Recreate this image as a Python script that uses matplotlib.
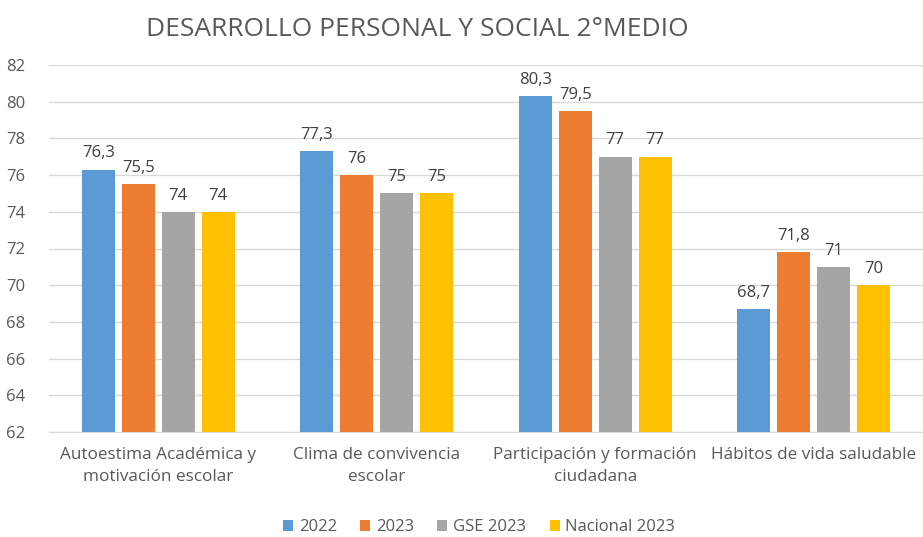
import matplotlib
matplotlib.use("Agg")
import matplotlib.pyplot as plt
import numpy as np

categories = ["Autoestima Académica y\nmotivación escolar", "Clima de convivencia\nescolar",
              "Participación y formación\nciudadana", "Hábitos de vida saludable"]
series_names = ["2022", "2023", "GSE 2023", "Nacional 2023"]
v2022 = [76.3, 77.3, 80.3, 68.7]
v2023 = [75.5, 76, 79.5, 71.8]
vgse = [74, 75, 77, 71]
vnac = [74, 75, 77, 70]
colors = ["#5B9BD5", "#ED7D31", "#A5A5A5", "#FFC000"]
yticks = list(range(62, 83, 2))

plt.rcParams['font.family'] = ['Open Sans', 'DejaVu Sans']
txt = "#595959"

fig = plt.figure(figsize=(9.23, 5.37), dpi=100)
ax = fig.add_axes([49/923, 1-432/537, 1-49/923, (432-65)/537])

x = np.arange(len(categories))
step = 0.183
width = 0.151
for i, (name, vals) in enumerate(zip(series_names, [v2022, v2023, vgse, vnac])):
    pos = x + (i - 1.5) * step
    ax.bar(pos, [v - 62 for v in vals], width, bottom=62, color=colors[i], label=name, zorder=3)
    for p, v in zip(pos, vals):
        lab = (f"{v:g}").replace(".", ",")
        ax.text(p, v + 0.45, lab, ha="center", va="bottom", fontsize=12, color="#404040")

ax.set_xlim(-0.5, 3.5)
ax.set_ylim(62, 82)
ax.set_yticks(yticks)
ax.set_yticklabels([str(t) for t in yticks], fontsize=12, color=txt)
ax.set_xticks(x)
ax.set_xticklabels(categories, fontsize=12.3, color=txt, linespacing=1.45)
ax.tick_params(axis="x", length=0, pad=11)
ax.tick_params(axis="y", length=0, pad=17)
ax.grid(axis="y", color="#D9D9D9", linewidth=1, zorder=0)
for s in ax.spines.values():
    s.set_visible(False)
ax.spines["bottom"].set_visible(True)
ax.spines["bottom"].set_color("#D9D9D9")

fig.text(0.452, 0.945, "DESARROLLO PERSONAL Y SOCIAL 2°MEDIO", ha="center", va="center",
         fontsize=19, color=txt)

fig.legend(loc="center", bbox_to_anchor=(0.519, 0.018), ncol=4, frameon=False, fontsize=12,
           handlelength=0.6, handleheight=0.6, handletextpad=0.35, columnspacing=1.4,
           labelcolor=txt)

fig.savefig("out.png", dpi=100)
